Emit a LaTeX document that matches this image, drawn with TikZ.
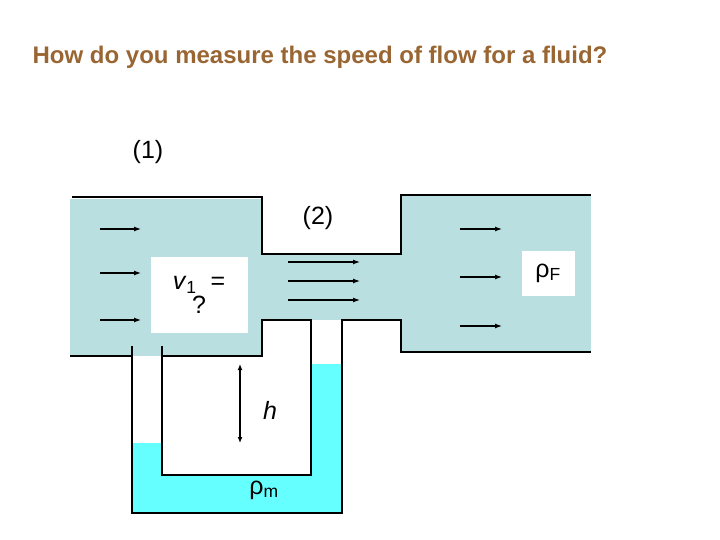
\documentclass[tikz,border=0pt]{standalone}
\usepackage{fontspec}
\setmainfont{Liberation Sans}
\usetikzlibrary{arrows.meta}
\definecolor{pipe}{RGB}{185,223,225}
\definecolor{merc}{RGB}{102,255,255}
\definecolor{title}{RGB}{153,102,51}
\begin{document}
\begin{tikzpicture}[x=1pt,y=-1pt,
  wall/.style={line width=2.5pt},
  flow/.style={line width=1.2pt,-{Latex[length=7pt,width=5pt]}},
  lbl/.style={font=\fontsize{25}{28}\selectfont}]
\useasboundingbox (0,0) rectangle (720,540);
% fluid
\fill[pipe] (70,199) rectangle (262,356);
\fill[pipe] (262,254) rectangle (401,320);
\fill[pipe] (401,195) rectangle (591,352);
\fill[white] (133,356) rectangle (161,443);
% manometer liquid
\fill[merc] (133,443) -- (161,443) -- (161,475) -- (311,475) -- (311,364) -- (342,364) -- (342,513) -- (133,513) -- cycle;
% walls
\draw[wall] (72,197) -- (262,197) -- (262,254) -- (401,254) -- (401,195) -- (591,195);
\draw[wall] (70,356) -- (132,356);
\draw[wall] (162,356) -- (262,356) -- (262,320) -- (311,320) -- (311,475) -- (162,475) -- (162,346);
\draw[wall] (132,346) -- (132,513) -- (342,513) -- (342,320) -- (401,320) -- (401,352) -- (591,352);
% white boxes
\node[fill=white,minimum width=97pt,minimum height=76pt,anchor=north west,inner sep=0] (vbox) at (151,257) {};
\node[lbl,align=center] (v) at (199,295) {\textit{v}\textsubscript{1}\ \ =\\[-4pt] ?};
\node[fill=white,lbl,minimum width=53pt,minimum height=45pt,inner sep=0] (rf) at (548,273) {ρ\textsubscript{F}};
% arrows
\foreach \y [count=\i] in {229,273,320} {\coordinate (la\i) at (100,\y); \coordinate (lb\i) at (141,\y); \draw[flow] (la\i) -- (lb\i);}
\foreach \y [count=\i] in {262,281,300} {\coordinate (ta\i) at (288,\y); \coordinate (tb\i) at (360,\y); \draw[flow] (ta\i) -- (tb\i);}
\foreach \y [count=\i] in {229,277,326} {\coordinate (ra\i) at (460,\y); \coordinate (rb\i) at (502,\y); \draw[flow] (ra\i) -- (rb\i);}
\coordinate (h1) at (240,364); \coordinate (h2) at (240,443);
\draw[line width=1.2pt,{Latex[length=6pt,width=5pt]}-{Latex[length=6pt,width=5pt]}] (h1) -- (h2);
\node[lbl] (h) at (270,410) {\textit{h}};
\node[lbl] (rm) at (264,490) {ρ\textsubscript{m}};
\node[lbl] (one) at (148,152) {(1)};
\node[lbl] (two) at (318,218) {(2)};
\node[font=\bfseries\fontsize{24}{27}\selectfont,text=title] (t) at (320,57) {How do you measure the speed of flow for a fluid?};
\end{tikzpicture}
\end{document}
